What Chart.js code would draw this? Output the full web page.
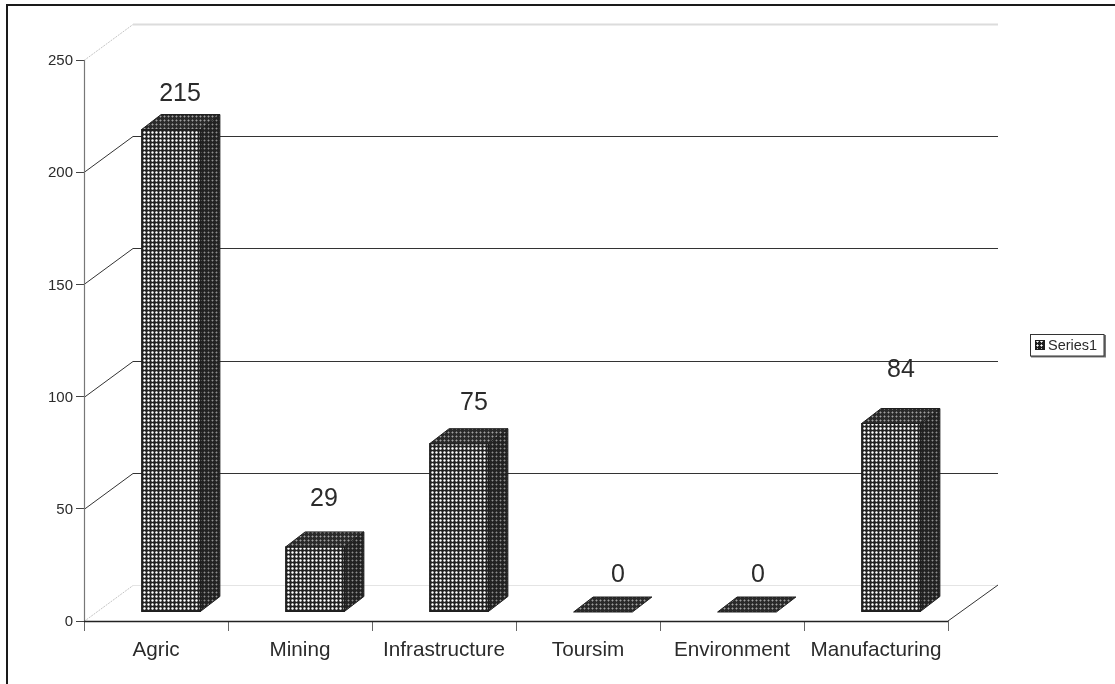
<!DOCTYPE html>
<html>
<head>
<meta charset="utf-8">
<style>
html,body{margin:0;padding:0;background:#fff;overflow:hidden}
#wrap{position:absolute;left:0;top:0;width:1115px;height:684px}
</style>
<script src="https://cdn.jsdelivr.net/npm/chart.js@4"></script>
</head>
<body>
<div id="wrap"><canvas id="c" width="1115" height="684"></canvas></div>
<script>
const categories = ['Agric','Mining','Infrastructure','Toursim','Environment','Manufacturing'];
const seriesName = 'Series1';
const seriesValues = [215,29,75,0,0,84];
const yTicks = [0,50,100,150,200,250];
// horizontal nudge of each value label from its category centre, and lift above the bar
const labelNudgeX = [24,24,30,30,26,25];
const labelLift = [20,33,26,22,22,38];

const WALL = {dx:49, dy:-36};   // depth of the back wall
const BAR_SHIFT = {dx:15, dy:-9}; // bars stand inside the floor
const BAR_DEPTH = {dx:19.5, dy:-15};
const FONT = '"Liberation Sans", Arial, sans-serif';
const INK = '#2b2b2b';

// Dotted fills: one small tile per face of the box
function tile(bg, dot, arm, corner) {
  const t = document.createElement('canvas');
  t.width = t.height = 4;
  const g = t.getContext('2d');
  g.fillStyle = bg; g.fillRect(0,0,4,4);
  if (corner) { g.fillStyle = corner; g.fillRect(0,0,1,1); g.fillRect(2,0,1,1); g.fillRect(0,2,1,1); g.fillRect(2,2,1,1); }
  g.fillStyle = arm;
  g.fillRect(0,1,3,1); g.fillRect(1,0,1,3);
  g.fillStyle = dot; g.fillRect(1,1,1,1);
  return document.createElement('canvas').getContext('2d').createPattern(t,'repeat');
}
const frontFill = tile('#222222','#ffffff','#c2c2c2','#5a5a5a');
const sideFill  = tile('#222222','#8e8e8e','#505050');
const topFill   = tile('#2a2a2a','#a0a0a0','#646464');
const keyFill   = tile('#1c1c1c','#ffffff','#b8b8b8');

function segment(ctx,x1,y1,x2,y2,color,width,dash){
  ctx.save();
  ctx.strokeStyle=color; ctx.lineWidth=width;
  ctx.setLineDash(dash||[]);
  ctx.beginPath(); ctx.moveTo(x1,y1); ctx.lineTo(x2,y2); ctx.stroke();
  ctx.restore();
}

const wallPlugin = {
  id:'wall',
  beforeDatasetsDraw(chart){
    const {ctx, scales:{y}, chartArea:a} = chart;
    yTicks.forEach(v=>{
      const py = Math.round(y.getPixelForValue(v))+0.5;
      const light = v===0 || v===250;
      const col = v===250 ? '#dcdcdc' : (v===0 ? '#e4e4e4' : '#333333');
      segment(ctx,a.left+WALL.dx,py+WALL.dy,a.right+WALL.dx+1,py+WALL.dy,col,v===250?2:1.2);
      segment(ctx,a.left,py,a.left+WALL.dx,py+WALL.dy,light?'#c4c4c4':'#333333',1,light?[2,1]:[]);
    });
    // right edge of the floor
    const fy = y.getPixelForValue(0);
    segment(ctx,a.right,fy,a.right+WALL.dx+1,fy+WALL.dy,'#333333',1);
    // axis lines over the wall joints
    segment(ctx,a.left+0.5,a.top,a.left+0.5,a.bottom,'#777777',1.2);
    segment(ctx,a.left,a.bottom+0.5,a.right,a.bottom+0.5,'#222222',1.5);
  },
  beforeDatasetDraw(chart){
    const ctx = chart.ctx;
    ctx.save();
    ctx.translate(BAR_SHIFT.dx,BAR_SHIFT.dy);
  },
  afterDatasetDraw(chart,args){
    const ctx = chart.ctx;
    const {dx,dy} = BAR_DEPTH;
    args.meta.data.forEach(bar=>{
      const p = bar.getProps(['x','y','base','width'],true);
      const l=p.x-p.width/2, r=p.x+p.width/2, t=p.y, b=p.base;
      ctx.strokeStyle='#1e1e1e'; ctx.lineWidth=1;
      // side face, skipped when a zero-height bar has none
      if (b-t>0.5){
        ctx.fillStyle=sideFill;
        ctx.beginPath(); ctx.moveTo(r,t); ctx.lineTo(r+dx,t+dy); ctx.lineTo(r+dx,b+dy); ctx.lineTo(r,b); ctx.closePath(); ctx.fill(); ctx.stroke();
        ctx.strokeRect(l,t,p.width,b-t);
      }
      // top face
      ctx.fillStyle=topFill;
      ctx.beginPath(); ctx.moveTo(l,t); ctx.lineTo(l+dx,t+dy); ctx.lineTo(r+dx,t+dy); ctx.lineTo(r,t); ctx.closePath(); ctx.fill();
      ctx.stroke();
    });
    ctx.restore();
    // value labels
    ctx.save();
    ctx.font='25px '+FONT; ctx.fillStyle=INK; ctx.textAlign='center'; ctx.textBaseline='middle';
    const xs = chart.scales.x, ys = chart.scales.y;
    seriesValues.forEach((v,i)=>{
      const top = ys.getPixelForValue(v)+BAR_SHIFT.dy+BAR_DEPTH.dy;
      ctx.fillText(String(v), xs.getPixelForValue(i)+labelNudgeX[i], top-labelLift[i]);
    });
    ctx.restore();
  },
  afterDraw(chart){
    const ctx = chart.ctx;
    // outer frame
    segment(ctx,7,684,7,4,'#1a1a1a',2);
    segment(ctx,6,5,1115,5,'#1a1a1a',2);
    // key
    ctx.save();
    ctx.fillStyle='#777'; ctx.fillRect(1031,335,75,22.5);
    ctx.fillStyle='#fff'; ctx.fillRect(1030,334,74,22);
    ctx.strokeStyle='#333'; ctx.lineWidth=1; ctx.strokeRect(1030.5,334.5,73.5,21.5);
    ctx.fillStyle=keyFill; ctx.fillRect(1035,340,10,10);
    ctx.strokeStyle='#1c1c1c'; ctx.strokeRect(1035.5,340.5,9,9);
    ctx.font='14.5px '+FONT; ctx.fillStyle=INK; ctx.textAlign='left'; ctx.textBaseline='middle';
    ctx.fillText(seriesName,1048,345.5);
    ctx.restore();
  }
};

new Chart(document.getElementById('c'),{
  type:'bar',
  data:{labels:categories,datasets:[{
    label:seriesName,data:seriesValues,backgroundColor:frontFill,
    borderWidth:0,barPercentage:0.408,categoryPercentage:1
  }]},
  plugins:[wallPlugin],
  options:{
    responsive:false,animation:false,
    layout:{padding:{left:0,top:60,right:167,bottom:0}},
    plugins:{legend:{display:false},tooltip:{enabled:false},title:{display:false}},
    scales:{
      x:{
        afterFit(s){s.height=63;},
        grid:{display:true,drawOnChartArea:false,drawTicks:true,tickLength:10,color:'#666666',offset:true},
        border:{display:false},
        ticks:{color:INK,font:{family:FONT,size:20.7},padding:7,maxRotation:0,autoSkip:false}
      },
      y:{
        min:0,max:250,
        afterFit(s){s.width=84;},
        afterBuildTicks(s){s.ticks=yTicks.map(v=>({value:v}));},
        grid:{display:true,drawOnChartArea:false,drawTicks:true,tickLength:8,color:'#444444'},
        border:{display:false},
        ticks:{color:INK,font:{family:FONT,size:15},padding:3,labelOffset:1}
      }
    }
  }
});
</script>
</body>
</html>
